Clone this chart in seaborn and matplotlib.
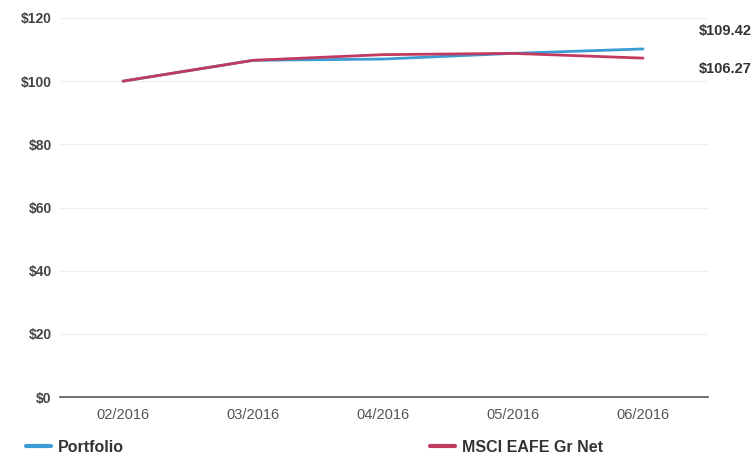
import numpy as np
import pandas as pd
import matplotlib
matplotlib.use("Agg")
import matplotlib.pyplot as plt
from matplotlib.lines import Line2D
import seaborn as sns

# data
months = ["02/2016", "03/2016", "04/2016", "05/2016", "06/2016"]
portfolio = [100.0, 106.6, 107.0, 108.8, 110.2]
msci = [100.0, 106.6, 108.4, 108.8, 107.3]
end_labels = ["$109.42", "$106.27"]
y_ticks = [0, 20, 40, 60, 80, 100, 120]

blue = "#3b9bd3"
red = "#c23a5f"

df = pd.DataFrame({
    "x": list(range(len(months))) * 2,
    "value": portfolio + msci,
    "series": ["Portfolio"] * len(months) + ["MSCI EAFE Gr Net"] * len(months),
})

sns.set_style("white")
plt.rcParams["font.family"] = ["Liberation Sans", "DejaVu Sans"]

fig = plt.figure(figsize=(7.55, 4.59), dpi=100)
ax = fig.add_axes([60 / 755, 1 - 397 / 459, 648 / 755, 379 / 459])

for y in y_ticks[1:]:
    ax.axhline(y, color="#eeeeee", lw=0.8, zorder=0)

sns.lineplot(data=df, x="x", y="value", hue="series",
             palette={"Portfolio": blue, "MSCI EAFE Gr Net": red},
             lw=2, ax=ax, legend=False)

ax.set_xlim(-0.485, 4.5)
ax.set_ylim(0, 120)
ax.set_xticks(range(len(months)))
ax.set_xticklabels(months, fontsize=10.5, color="#555555")
ax.set_yticks(y_ticks)
ax.set_yticklabels([f"${v}" for v in y_ticks], fontsize=10, color="#444444", fontweight="bold")
ax.tick_params(axis="y", length=0, pad=6)
ax.tick_params(axis="x", length=0, pad=8)
ax.set_xlabel("")
ax.set_ylabel("")
for s in ["top", "right", "left"]:
    ax.spines[s].set_visible(False)
ax.spines["bottom"].set_color("#555555")
ax.spines["bottom"].set_linewidth(1.2)

fig.text(752 / 755, 1 - 31 / 459, end_labels[0], ha="right", va="center",
         fontsize=10.5, fontweight="bold", color="#333333")
fig.text(752 / 755, 1 - 69 / 459, end_labels[1], ha="right", va="center",
         fontsize=10.5, fontweight="bold", color="#333333")

leg1 = fig.legend(handles=[Line2D([], [], color=blue, lw=3)], labels=["Portfolio"],
                  loc="lower left", bbox_to_anchor=(0.015, -0.022), frameon=False,
                  handlelength=1.6, handletextpad=0.4,
                  prop={"size": 11.5, "weight": "bold"})
leg2 = fig.legend(handles=[Line2D([], [], color=red, lw=3)], labels=["MSCI EAFE Gr Net"],
                  loc="lower left", bbox_to_anchor=(0.55, -0.022), frameon=False,
                  handlelength=1.6, handletextpad=0.4,
                  prop={"size": 11.5, "weight": "bold"})
for leg in (leg1, leg2):
    for t in leg.get_texts():
        t.set_color("#333333")

fig.savefig("out.png", dpi=100, facecolor="white")
